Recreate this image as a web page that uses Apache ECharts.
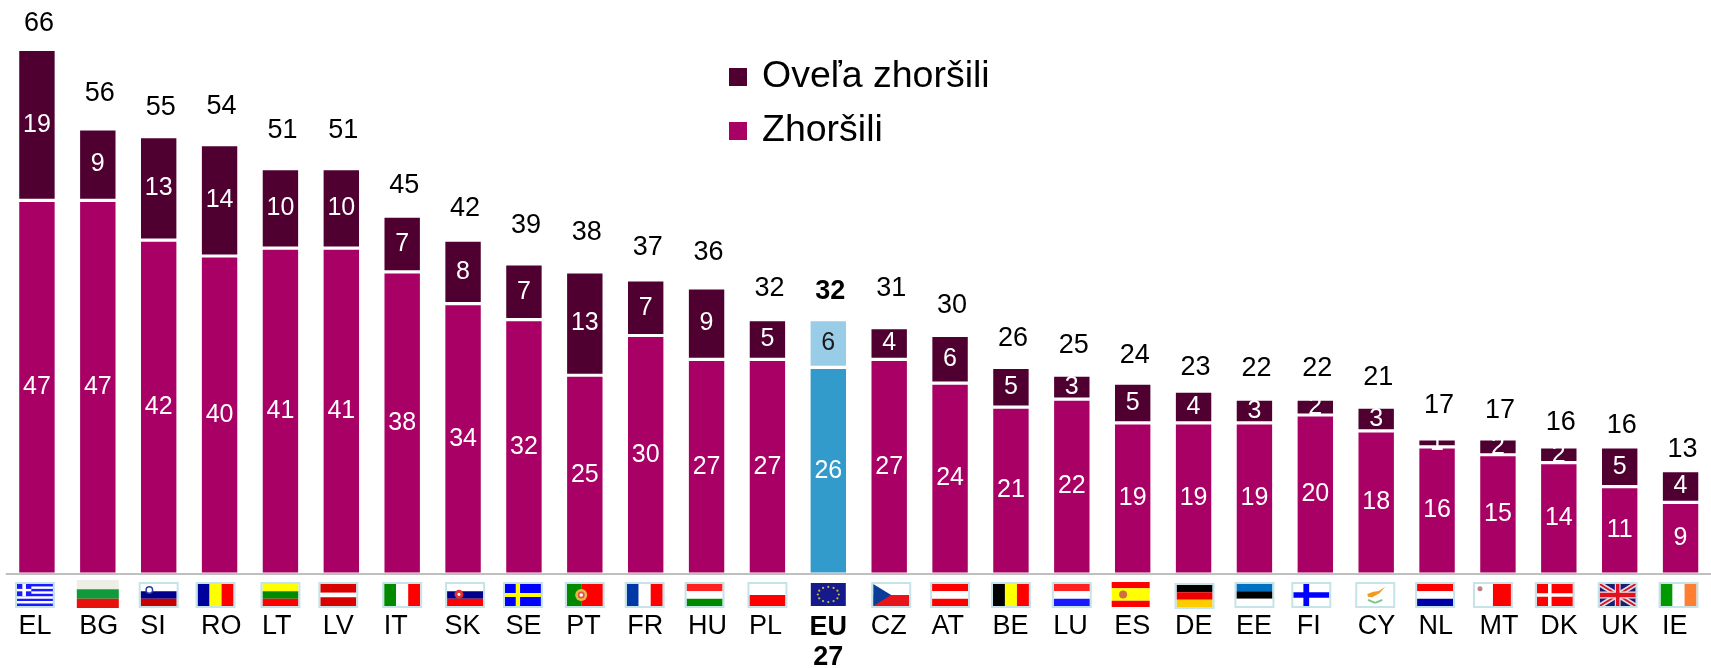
<!DOCTYPE html>
<html>
<head>
<meta charset="utf-8">
<style>
  html, body { margin: 0; padding: 0; background: #fff; }
  #chart { width: 1711px; height: 668px; }
</style>
<script src="https://cdn.jsdelivr.net/npm/echarts@6/dist/echarts.min.js"></script>
</head>
<body>
<div id="chart"></div>
<script>
var categories = ['EL','BG','SI','RO','LT','LV','IT','SK','SE','PT','FR','HU','PL','EU27','CZ','AT','BE','LU','ES','DE','EE','FI','CY','NL','MT','DK','UK','IE'];
var worsened   = [47,47,42,40,41,41,38,34,32,25,30,27,27,26,27,24,21,22,19,19,19,20,18,16,15,14,11,9];
var muchWorse  = [19,9,13,14,10,10,7,8,7,13,7,9,5,6,4,6,5,3,5,4,3,2,3,1,2,2,5,4];
var totals     = [66,56,55,54,51,51,45,42,39,38,37,36,32,32,31,30,26,25,24,23,22,22,21,17,17,16,16,13];

// the totals were placed by hand in the original, px above the bar top
var totalLift  = [12,22,16,25,25,25,17,18,25,26,19,22,18,15,26,16,15,16,14,10,17,17,16,20,15,11,8,8];
// same for the flags, px off the bar centre
var flagNudge  = [-2,0,0,-4,0,-3,0,2,-1,0,-1,-2,0,0,2,0,0,0,-2,1,0,-4,-1,-2,-5,-4,-2,-2];

var EU_INDEX = categories.indexOf('EU27');
var DARK = '#4f0030', MAGENTA = '#a80064', EU_DARK = '#339acc', EU_LIGHT = '#99cce6';
var FONT = '"Liberation Sans", Arial, sans-serif';

// flag drawing, everything in 0..1 of the flag box
function h(colors, sizes) {
  var y = 0;
  return colors.map(function(c, i) {
    var s = sizes ? sizes[i] : 1 / colors.length;
    var r = ['r', 0, y, 1, s, c];
    y += s;
    return r;
  });
}
function v(colors, sizes) {
  var x = 0;
  return colors.map(function(c, i) {
    var s = sizes ? sizes[i] : 1 / colors.length;
    var r = ['r', x, 0, s, 1, c];
    x += s;
    return r;
  });
}
function cross(bg, fg, cx, t) {
  return [['r', 0, 0, 1, 1, bg], ['r', cx - t / 2, 0, t, 1, fg], ['r', 0, 0.5 - t * 0.8, 1, t * 1.6, fg]];
}
function euStars() {
  var out = [['r', 0, 0, 1, 1, '#141a8c']];
  for (var i = 0; i < 12; i++) {
    var a = i * Math.PI / 6;
    out.push(['c', 0.5 + 0.3 * Math.cos(a), 0.5 + 0.33 * Math.sin(a), 1.1, '#c9b73c']);
  }
  return out;
}
function greek() {
  var out = [['r', 0, 0, 1, 1, '#1a1aff']];
  [1, 3, 5, 7].forEach(function(n) {
    out.push(['r', n < 5 ? 0.4 : 0, n / 9, n < 5 ? 0.6 : 1, 1 / 9, '#fff']);
  });
  out.push(['r', 0.15, 0, 0.1, 5 / 9, '#fff'], ['r', 0, 2 / 9, 0.4, 1 / 9, '#fff']);
  return out;
}
function union() {
  return [
    ['r', 0, 0, 1, 1, '#1c1c70'],
    ['l', 0, 0, 1, 1, 5, '#dfdfe8'], ['l', 1, 0, 0, 1, 5, '#dfdfe8'],
    ['l', 0, 0, 1, 1, 2, '#d81020'], ['l', 1, 0, 0, 1, 2, '#d81020'],
    ['r', 0, 0.34, 1, 0.32, '#f4e8ec'], ['r', 0.42, 0, 0.16, 1, '#f4e8ec'],
    ['r', 0, 0.4, 1, 0.2, '#e01020'], ['r', 0.45, 0, 0.1, 1, '#e01020']
  ];
}
var flags = {
  EL: greek(),
  BG: h(['#eeeee4', '#0f9a3c', '#e8120c']),
  SI: h(['#fff', '#00008b', '#c80000']).concat([['c', 0.24, 0.27, 4, '#2a3f9e'], ['c', 0.24, 0.27, 2.5, '#fff']]),
  RO: v(['#00009c', '#ffff00', '#ff0000']),
  LT: h(['#ffff00', '#008a00', '#ff0000']),
  LV: h(['#d80000', '#fff', '#d80000'], [0.4, 0.2, 0.4]),
  IT: v(['#008a00', '#fff', '#ff0000']),
  SK: h(['#fff', '#00008b', '#ff0000']).concat([['c', 0.33, 0.47, 4.5, '#e23030'], ['c', 0.33, 0.47, 1.6, '#fff']]),
  SE: cross('#0000ff', '#ffff00', 0.36, 0.12),
  PT: v(['#008a00', '#ff0000'], [0.4, 0.6]).concat([['c', 0.4, 0.5, 6, '#e0c040'], ['c', 0.4, 0.5, 3.5, '#e85050'], ['c', 0.4, 0.5, 1.8, '#fff']]),
  FR: v(['#0039a6', '#fff', '#ff0000']),
  HU: h(['#ff2020', '#fff', '#008a00']),
  PL: h(['#fff', '#ff0000']),
  EU27: euStars(),
  CZ: h(['#fff', '#e8141c']).concat([['p', [[0, 0], [0.5, 0.5], [0, 1]], '#0a3d9a']]),
  AT: h(['#ff0000', '#fff', '#ff0000']),
  BE: v(['#000', '#ffff00', '#ff0000']),
  LU: h(['#ff2020', '#fff', '#1a1aff']),
  ES: h(['#ff0000', '#ffff00', '#ff0000'], [0.25, 0.5, 0.25]).concat([['c', 0.3, 0.5, 4, '#d07040']]),
  DE: h(['#000', '#ee0000', '#ffcc00']),
  EE: h(['#0070c0', '#000', '#fff']),
  FI: cross('#fff', '#0000ff', 0.36, 0.16),
  CY: [['r', 0, 0, 1, 1, '#fff'],
       ['p', [[0.28, 0.45], [0.45, 0.35], [0.6, 0.32], [0.78, 0.12], [0.62, 0.42], [0.42, 0.6], [0.3, 0.58]], '#f39a1c'],
       ['l', 0.3, 0.72, 0.5, 0.86, 2, '#7cc68a'], ['l', 0.5, 0.86, 0.7, 0.72, 2, '#7cc68a']],
  NL: h(['#ff0000', '#fff', '#0000a8']),
  MT: v(['#fff', '#ff0000']).concat([['c', 0.14, 0.22, 2.5, '#c08088']]),
  DK: cross('#ff0000', '#fff', 0.36, 0.1),
  UK: union(),
  IE: v(['#009a00', '#fff', '#ff7f32'])
};
// these have no pale frame or another size
var flagBox = {
  BG:   { w: 42, h: 28, dy: -4, frame: false },
  EU27: { w: 35, h: 23, dy: -1, frame: false },
  ES:   { w: 38, h: 25, dy: -2, frame: false },
  DE:   { w: 36, h: 22, dy: 1, frame: true }
};

function drawFlag(params, api) {
  var i = api.value(0);
  var code = categories[i];
  var base = api.coord([i, 0]);
  var box = flagBox[code] || { w: 36, h: 22, dy: 0, frame: true };
  var children = flags[code].map(function(s) {
    if (s[0] === 'r') return { type: 'rect', shape: { x: s[1] * box.w, y: s[2] * box.h, width: s[3] * box.w, height: s[4] * box.h }, style: { fill: s[5] } };
    if (s[0] === 'c') return { type: 'circle', shape: { cx: s[1] * box.w, cy: s[2] * box.h, r: s[3] }, style: { fill: s[4] } };
    if (s[0] === 'l') return { type: 'line', shape: { x1: s[1] * box.w, y1: s[2] * box.h, x2: s[3] * box.w, y2: s[4] * box.h }, style: { stroke: s[6], lineWidth: s[5] } };
    return { type: 'polygon', shape: { points: s[1].map(function(p) { return [p[0] * box.w, p[1] * box.h]; }) }, style: { fill: s[2] } };
  });
  if (box.frame) {
    children.push({ type: 'rect', shape: { x: -1, y: -1, width: box.w + 2, height: box.h + 2 }, style: { fill: 'none', stroke: '#c5e4ea', lineWidth: 2 } });
  }
  return {
    type: 'group',
    x: base[0] + flagNudge[i] - box.w / 2,
    y: base[1] + 10 + box.dy,
    children: children
  };
}

var chart = echarts.init(document.getElementById('chart'), null, { renderer: 'canvas' });
chart.setOption({
  animation: false,
  textStyle: { fontFamily: FONT },
  legend: {
    data: ['Oveľa zhoršili', 'Zhoršili'],
    orient: 'vertical',
    left: 727,
    top: 58,
    padding: 0,
    itemWidth: 20,
    itemHeight: 20,
    itemGap: 16,
    icon: 'rect',
    selectedMode: false,
    textStyle: { fontSize: 37.5, color: '#000', fontFamily: FONT, padding: [0, 0, 0, 9] }
  },
  grid: { left: 6.5, right: 0, top: 17.5, bottom: 94, outerBoundsMode: 'none' },
  xAxis: {
    type: 'category',
    data: categories,
    z: 5,
    axisTick: { show: false },
    axisLine: { lineStyle: { color: '#bfbfbf', width: 2 } },
    axisLabel: {
      interval: 0,
      margin: 39,
      color: '#000',
      fontSize: 27,
      fontFamily: FONT,
      formatter: function(code) {
        if (code === 'EU27') return '{eu|EU}\n{eu|27}';
        return '{t|' + code + '}';
      },
      rich: {
        t: { width: 37, align: 'left', fontSize: 27, color: '#000', fontFamily: FONT },
        eu: { width: 37, align: 'center', fontSize: 27, fontWeight: 'bold', color: '#000', lineHeight: 30, fontFamily: FONT }
      }
    }
  },
  yAxis: { type: 'value', min: 0, max: 70, show: false, splitLine: { show: false } },
  series: [
    {
      name: 'Zhoršili',
      type: 'bar',
      stack: 'share',
      barWidth: 38.6,
      barGap: '-100%',
      itemStyle: { color: MAGENTA, borderColor: '#fff', borderWidth: 1.6 },
      label: { show: true, position: 'inside', color: '#fff', fontSize: 25, fontFamily: FONT },
      data: worsened.map(function(val, i) {
        return i === EU_INDEX ? { value: val, itemStyle: { color: EU_DARK } } : val;
      })
    },
    {
      name: 'Oveľa zhoršili',
      type: 'bar',
      stack: 'share',
      barWidth: 38.6,
      itemStyle: { color: DARK, borderColor: '#fff', borderWidth: 1.6 },
      label: { show: true, position: 'inside', color: '#fff', fontSize: 25, fontFamily: FONT },
      data: muchWorse.map(function(val, i) {
        return i === EU_INDEX ? { value: val, itemStyle: { color: EU_LIGHT }, label: { color: '#1a1a1a' } } : val;
      })
    },
    {
      name: 'total',
      type: 'bar',
      barWidth: 38.6,
      silent: true,
      itemStyle: { color: 'rgba(0,0,0,0)' },
      label: { show: true, position: 'top', distance: 0, color: '#000', fontSize: 27, fontFamily: FONT },
      data: totals.map(function(val, i) {
        return {
          value: val,
          label: { offset: [2, -totalLift[i]], fontWeight: i === EU_INDEX ? 'bold' : 'normal' }
        };
      })
    },
    {
      name: 'flags',
      type: 'custom',
      silent: true,
      clip: false,
      renderItem: drawFlag,
      encode: { x: 0 },
      data: categories.map(function(c, i) { return [i]; })
    }
  ]
});
window.addEventListener('resize', function() { chart.resize(); });
</script>
</body>
</html>
